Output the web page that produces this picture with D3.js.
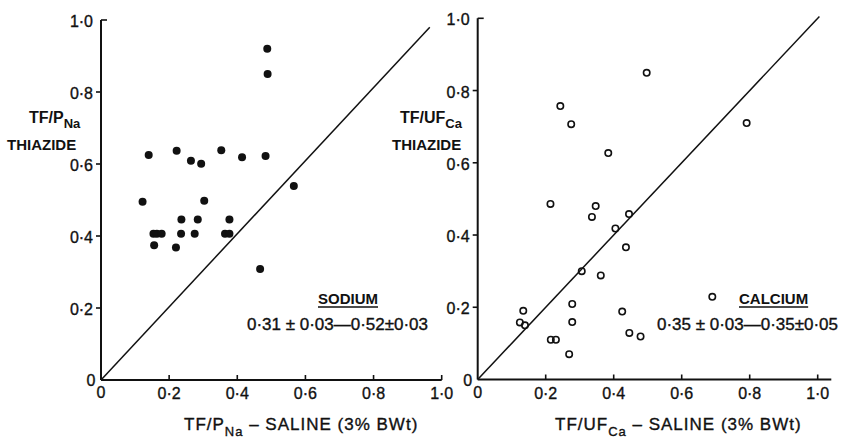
<!DOCTYPE html>
<html><head><meta charset="utf-8">
<script src="https://cdn.jsdelivr.net/npm/d3@7"></script>
<style>
body{margin:0;background:#fff}
svg{display:block}
text{font-family:"Liberation Sans",Arial,sans-serif;fill:#111}
text.reg{stroke:#111;stroke-width:0.35px}
</style>
</head><body>
<svg id="chart" width="861" height="440"></svg>
<script>
// ---- data ----
const tickValues = [0.2, 0.4, 0.6, 0.8, 1.0];
const tickLabels = ["0·2", "0·4", "0·6", "0·8", "1·0"];

// Sodium: TF/P Na saline (x) vs thiazide (y)
const sodiumX = [0.488,0.489,0.140,0.222,0.264,0.294,0.353,0.414,0.483,0.566,0.122,0.303,0.236,0.284,0.377,0.154,0.164,0.178,0.235,0.275,0.364,0.377,0.156,0.220,0.467];
const sodiumY = [0.920,0.850,0.625,0.637,0.609,0.601,0.638,0.619,0.622,0.539,0.495,0.498,0.446,0.446,0.446,0.406,0.406,0.406,0.406,0.406,0.406,0.406,0.374,0.368,0.308];

// Calcium: TF/UF Ca saline (x) vs thiazide (y)
const calciumX = [0.497,0.243,0.275,0.384,0.791,0.214,0.347,0.336,0.445,0.405,0.436,0.306,0.362,0.690,0.278,0.134,0.425,0.124,0.139,0.278,0.215,0.230,0.446,0.479,0.269];
const calciumY = [0.849,0.757,0.707,0.627,0.710,0.486,0.480,0.450,0.458,0.418,0.366,0.300,0.288,0.229,0.209,0.190,0.188,0.158,0.150,0.159,0.110,0.110,0.129,0.119,0.070];

// identity lines (x = y)
const sodiumLine = [[0,0],[0.965,0.98]];
const calciumLine = [[0,0],[1.005,1.005]];

const sodiumStat = "0·31 ± 0·03—0·52±0·03";
const calciumStat = "0·35 ± 0·03—0·35±0·05";

// ---- drawing ----
const svg = d3.select("#chart");

const panels = [
  {xs: d3.scaleLinear().domain([0,1]).range([101, 441.7]),
   ys: d3.scaleLinear().domain([0,1]).range([380, 20]),
   xEnd: 1.0, X: sodiumX, Y: sodiumY, line: sodiumLine, filled: true,
   yLab: ["TF/P","Na"], yLabX: 29, thX: 7,
   xLab: ["TF/P","Na"," – SALINE (3% BWt)"], xLabX: 184,
   name: "SODIUM", nameX: 318, stat: sodiumStat, statX: 247},
  {xs: d3.scaleLinear().domain([0,1]).range([477.7, 817.7]),
   ys: d3.scaleLinear().domain([0,1]).range([379.5, 18.3]),
   xEnd: 1.04, X: calciumX, Y: calciumY, line: calciumLine, filled: false,
   yLab: ["TF/UF","Ca"], yLabX: 400, thX: 392,
   xLab: ["TF/UF","Ca"," – SALINE (3% BWt)"], xLabX: 555,
   name: "CALCIUM", nameX: 739, stat: calciumStat, statX: 657}
];

panels.forEach(p => {
  const g = svg.append("g");
  const {xs, ys} = p;
  // axes lines
  g.append("line").attr("x1", xs(0)).attr("x2", xs(p.xEnd)).attr("y1", ys(0)).attr("y2", ys(0))
    .attr("stroke","#111").attr("stroke-width",2);
  g.append("line").attr("x1", xs(0)).attr("x2", xs(0)).attr("y1", ys(0)).attr("y2", ys(1))
    .attr("stroke","#111").attr("stroke-width",2);
  // x ticks (inward, up)
  g.selectAll(".xt").data(tickValues).join("line")
    .attr("x1", d => xs(d)).attr("x2", d => xs(d))
    .attr("y1", ys(0)).attr("y2", ys(0) - 5)
    .attr("stroke","#111").attr("stroke-width",1.6);
  // y ticks (outward, left) ; top one turns right
  g.selectAll(".yt").data(tickValues).join("line")
    .attr("x1", xs(0)).attr("x2", d => d === 1 ? xs(0) + 6 : xs(0) - 5)
    .attr("y1", d => ys(d)).attr("y2", d => ys(d))
    .attr("stroke","#111").attr("stroke-width",1.6);
  // tick labels
  g.selectAll(".xl").data(tickValues).join("text").attr("class","reg")
    .attr("x", d => xs(d)).attr("y", ys(0) + 19)
    .attr("text-anchor","middle").attr("font-size",16)
    .text((d,i) => tickLabels[i]);
  g.selectAll(".yl").data(tickValues).join("text").attr("class","reg")
    .attr("x", xs(0) - 8).attr("y", d => ys(d) + 7)
    .attr("text-anchor","end").attr("font-size",16)
    .text((d,i) => tickLabels[i]);
  g.append("text").attr("class","reg").attr("x", xs(0) - 10).attr("y", ys(0) + 6).attr("text-anchor","middle").attr("font-size",16).text("0");
  g.append("text").attr("class","reg").attr("x", xs(0)).attr("y", ys(0) + 18).attr("text-anchor","middle").attr("font-size",16).text("0");
  // identity line
  g.append("path").attr("d", d3.line().x(d => xs(d[0])).y(d => ys(d[1]))(p.line))
    .attr("fill","none").attr("stroke","#111").attr("stroke-width",1.5);
  // points
  const pts = p.X.map((x,i) => [x, p.Y[i]]);
  g.selectAll(".pt").data(pts).join("circle")
    .attr("cx", d => xs(d[0])).attr("cy", d => ys(d[1]))
    .attr("r", p.filled ? 4 : 3.2)
    .attr("fill", p.filled ? "#111" : "none")
    .attr("stroke","#111").attr("stroke-width", p.filled ? 0 : 1.6);
  // y-axis label
  const yl = g.append("text").attr("x", p.yLabX).attr("y", 123).attr("font-weight","bold").attr("font-size",16);
  yl.append("tspan").text(p.yLab[0]);
  yl.append("tspan").attr("dy",5).attr("font-size",13).text(p.yLab[1]);
  g.append("text").attr("x", p.thX).attr("y", 150).attr("font-weight","bold").attr("font-size",15).text("THIAZIDE");
  // x-axis label
  const xl = g.append("text").attr("class","reg").attr("x", p.xLabX).attr("y", 430).attr("font-size",17).attr("letter-spacing",1);
  xl.append("tspan").text(p.xLab[0]);
  xl.append("tspan").attr("dy",6).attr("font-size",13).text(p.xLab[1]);
  xl.append("tspan").attr("dy",-6).text(p.xLab[2]);
  // annotation
  const nm = g.append("text").attr("x", p.nameX).attr("y", 304).attr("font-weight","bold").attr("font-size",15).text(p.name);
  const w = nm.node().getComputedTextLength();
  g.append("line").attr("x1", p.nameX).attr("x2", p.nameX + w).attr("y1", 307).attr("y2", 307)
    .attr("stroke","#111").attr("stroke-width",1.5);
  g.append("text").attr("class","reg").attr("x", p.statX).attr("y", 330).attr("font-size",16)
    .attr("textLength",181).attr("lengthAdjust","spacingAndGlyphs").text(p.stat);
});
</script>
</body></html>
